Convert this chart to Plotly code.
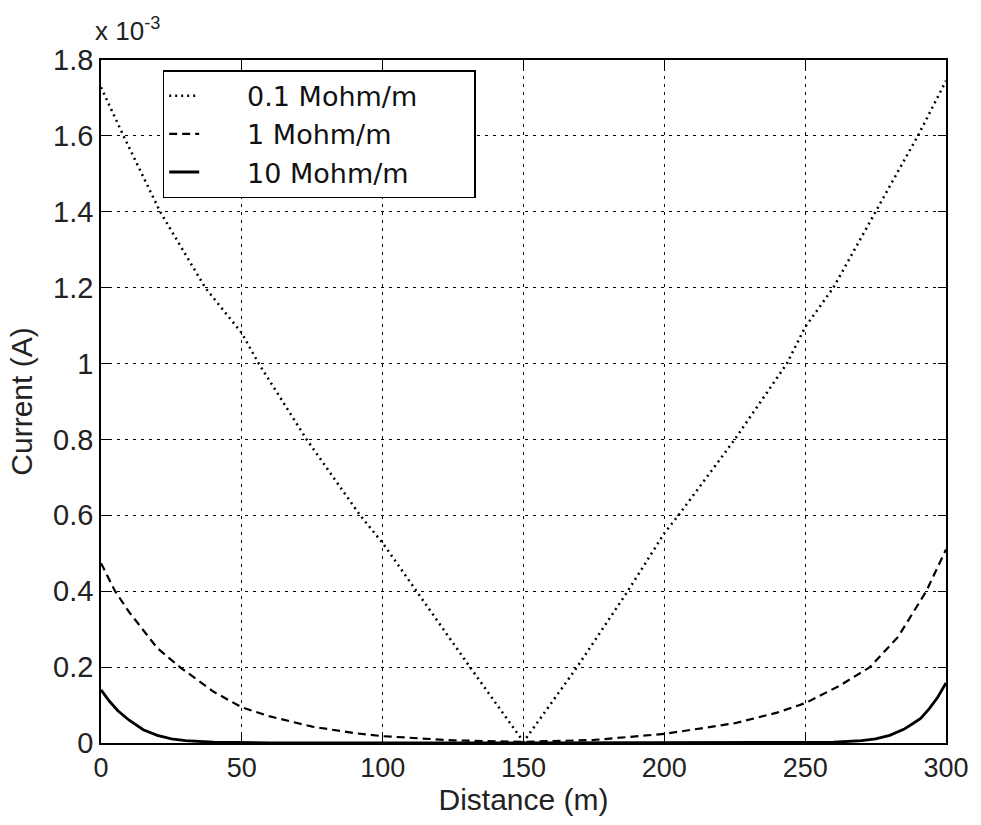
import plotly.graph_objects as go

# Values (current in units of 1e-3 A)
x_01 = [0, 8, 21, 37, 50, 56, 73, 92, 100, 112, 131, 150, 169, 187, 200, 205, 225, 243.5, 250, 260, 275, 290, 300]
y_01 = [1.728, 1.6, 1.4, 1.2, 1.08, 1.0, 0.8, 0.6, 0.527, 0.4, 0.2, 0.003, 0.2, 0.4, 0.553, 0.6, 0.8, 1.0, 1.096, 1.2, 1.4, 1.6, 1.745]

x_1 = [0, 5, 10, 20, 28, 40, 50, 60, 75, 90, 100, 125, 150, 175, 200, 225, 240, 250, 262, 273, 283, 293, 300]
y_1 = [0.474, 0.40, 0.345, 0.25, 0.2, 0.135, 0.094, 0.07, 0.043, 0.026, 0.018, 0.007, 0.003, 0.008, 0.024, 0.052, 0.08, 0.105, 0.15, 0.2, 0.28, 0.4, 0.51]

x_10 = [0, 3, 6, 10, 15, 20, 25, 30, 40, 60, 150, 240, 260, 270, 275, 280, 285, 288, 291, 294, 297, 300]
y_10 = [0.14, 0.11, 0.085, 0.06, 0.035, 0.02, 0.011, 0.006, 0.002, 0.0005, 0.0, 0.0005, 0.002, 0.006, 0.011, 0.02, 0.036, 0.05, 0.065, 0.09, 0.12, 0.158]

series_names = ["0.1 Mohm/m", "1 Mohm/m", "10 Mohm/m"]

x_ticks = [0, 50, 100, 150, 200, 250, 300]
y_ticks = [0, 0.2, 0.4, 0.6, 0.8, 1.0, 1.2, 1.4, 1.6, 1.8]
y_tick_text = ["0", "0.2", "0.4", "0.6", "0.8", "1", "1.2", "1.4", "1.6", "1.8"]

font_main = "Liberation Sans, Arial, sans-serif"
pad_l = "\u00a0" * 5
pad_r = "\u00a0" * 6

fig = go.Figure()
fig.add_trace(go.Scatter(x=x_01, y=y_01, mode="lines", name=pad_l + series_names[0] + pad_r,
                         line=dict(color="black", width=2.5, dash="2px,4px")))
fig.add_trace(go.Scatter(x=x_1, y=y_1, mode="lines", name=pad_l + series_names[1] + pad_r,
                         line=dict(color="black", width=2.2, dash="8px,5px")))
fig.add_trace(go.Scatter(x=x_10, y=y_10, mode="lines", name=pad_l + series_names[2] + pad_r,
                         line=dict(color="black", width=2.8)))

axis_common = dict(
    showline=True, linecolor="black", linewidth=1.5, mirror="ticks",
    ticks="inside", ticklen=8, tickcolor="black", tickwidth=1,
    showgrid=True, gridcolor="black", gridwidth=1, griddash="3px,5px",
    zeroline=False,
)

fig.update_xaxes(range=[0, 300], tickvals=x_ticks, **axis_common,
                 tickfont=dict(family=font_main, size=27, color="#222"),
                 title=dict(text="Distance (m)", font=dict(family=font_main, size=30, color="#222"), standoff=6))
fig.update_yaxes(range=[0, 1.8], tickvals=y_ticks, ticktext=y_tick_text, **axis_common,
                 tickfont=dict(family=font_main, size=29, color="#222"),
                 title=dict(text="Current (A)", font=dict(family=font_main, size=30, color="#222"), standoff=12))

fig.add_annotation(x=0, y=1, xref="paper", yref="paper", xanchor="left", yanchor="bottom",
                   xshift=-8, yshift=12, showarrow=False,
                   text="x 10<sup>-3</sup>", font=dict(family=font_main, size=26, color="#222"))

fig.update_layout(
    width=981, height=825,
    margin=dict(l=101, r=31, t=60, b=82),
    paper_bgcolor="white", plot_bgcolor="white",
    showlegend=True,
    legend=dict(x=0.073, y=0.985, xanchor="left", yanchor="top",
                bgcolor="white", bordercolor="black", borderwidth=1.5,
                font=dict(family="DejaVu Sans, sans-serif", size=27, color="#111"),
                tracegroupgap=0),
)

fig.write_html("out.html")
